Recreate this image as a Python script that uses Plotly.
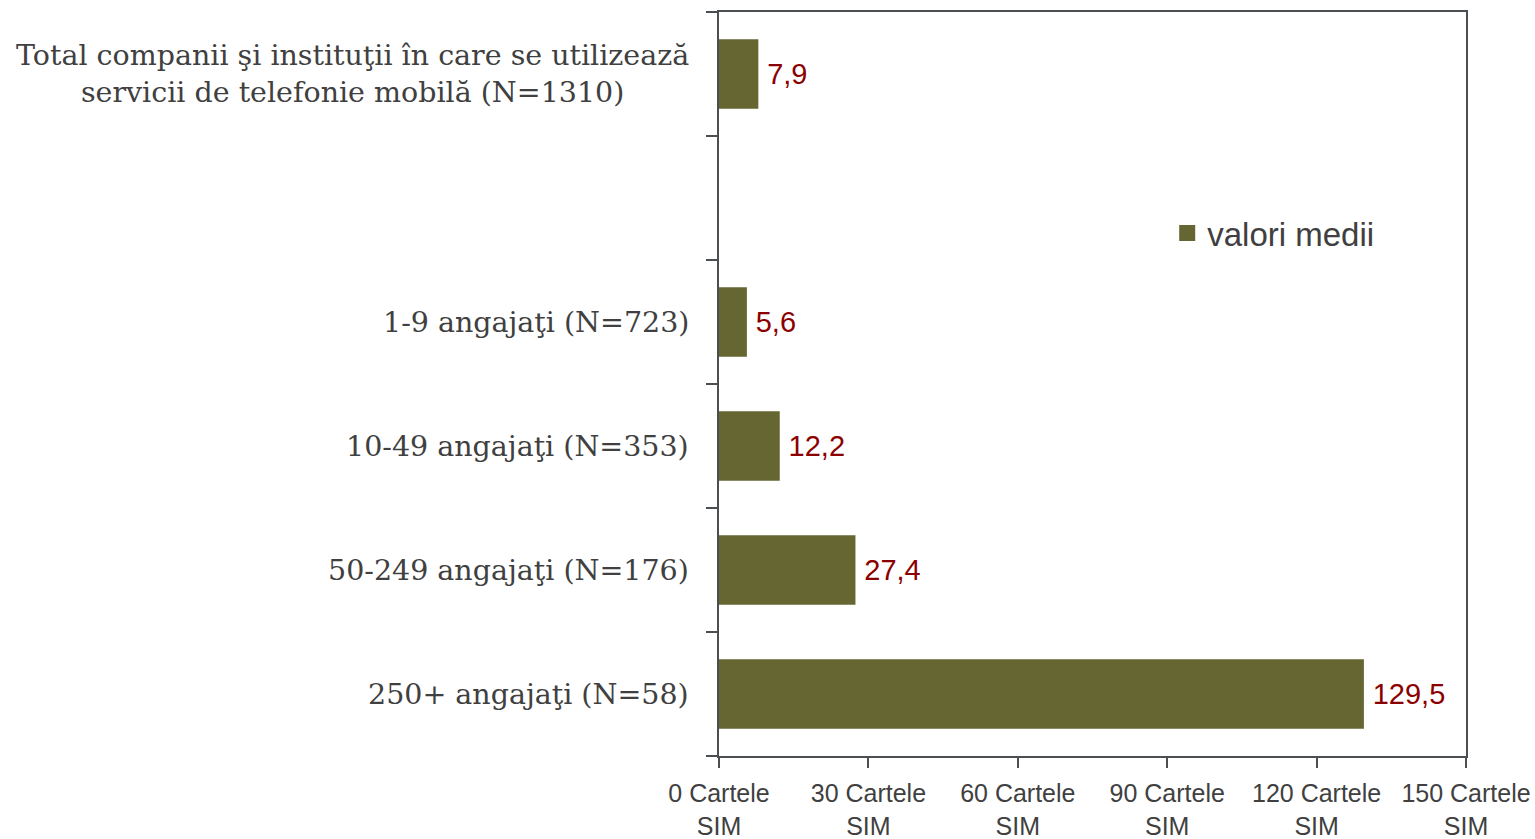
import plotly.graph_objects as go

categories = [
    "Total companii şi instituţii în care se utilizează<br>servicii de telefonie mobilă (N=1310)",
    "",
    "1-9 angajaţi (N=723)",
    "10-49 angajaţi (N=353)",
    "50-249 angajaţi (N=176)",
    "250+ angajaţi (N=58)",
]
values = [7.9, None, 5.6, 12.2, 27.4, 129.5]
series_name = "valori medii"
x_ticks = [0, 30, 60, 90, 120, 150]
x_tick_labels = [f"{v} Cartele<br>SIM" for v in x_ticks]

positions = list(range(len(categories)))
bar_x = [v for v in values if v is not None]
bar_y = [p for p, v in zip(positions, values) if v is not None]
bar_text = ["\u2009" + f"{v:.1f}".replace(".", ",") for v in bar_x]

AXIS = "#4b4f52"
BAR = "#666633"
LABEL = "#8b0000"
TEXT = "#404040"

fig = go.Figure()
fig.add_trace(go.Bar(
    x=bar_x, y=bar_y, orientation="h", name=series_name,
    marker=dict(color=BAR, line=dict(width=0)),
    text=bar_text, textposition="outside", cliponaxis=False,
    textfont=dict(family="Liberation Sans, Arial", size=29, color=LABEL),
    width=0.56, showlegend=False,
))
# legend entry with a larger square swatch
fig.add_trace(go.Scatter(
    x=[None], y=[None], mode="markers", name=series_name,
    marker=dict(symbol="square", size=20, color=BAR), showlegend=True,
))

annotations = []
for p, c in zip(positions, categories):
    if not c:
        continue
    annotations.append(dict(
        x=0, xref="paper", y=p, yref="y", text=c, showarrow=False,
        xanchor="right", yanchor="middle", align="center", xshift=-28,
        font=dict(family="DejaVu Serif", size=28.5, color=TEXT),
    ))

fig.update_layout(
    width=1535, height=839,
    margin=dict(l=719, r=69, t=12, b=83),
    paper_bgcolor="white", plot_bgcolor="white",
    showlegend=True,
    legend=dict(x=0.6, y=0.703, xanchor="left", yanchor="middle",
                font=dict(family="Liberation Sans, Arial", size=33, color=TEXT),
                bgcolor="rgba(0,0,0,0)", itemwidth=30),
    annotations=annotations,
    xaxis=dict(range=[0, 150], tickvals=x_ticks, ticktext=x_tick_labels,
               showgrid=False, zeroline=False, showline=True, mirror=True,
               linecolor=AXIS, linewidth=2, ticks="outside", ticklen=10,
               tickwidth=2, tickcolor=AXIS, ticklabelstandoff=4, automargin=False,
               tickfont=dict(family="Liberation Sans, Arial", size=25, color=TEXT)),
    yaxis=dict(range=[5.5, -0.5], tickvals=[i - 0.5 for i in range(len(categories) + 1)],
               showticklabels=False, showgrid=False, zeroline=False, automargin=False,
               showline=True, mirror=True, linecolor=AXIS, linewidth=2,
               ticks="outside", ticklen=11, tickwidth=2, tickcolor=AXIS),
)

fig.write_html(
    "out.html",
    config={"displayModeBar": False},
    post_script="document.body.style.margin='0';document.body.style.overflow='hidden';",
)
